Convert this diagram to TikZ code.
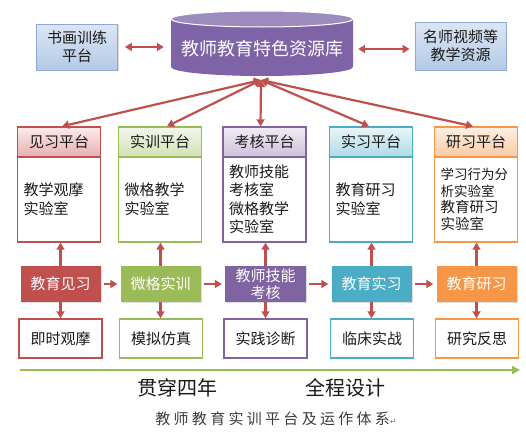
\documentclass[tikz,border=0pt]{standalone}
\usepackage{fontspec}
\setmainfont{Noto Sans CJK SC}
\newfontfamily\symfont{DejaVu Sans}
\usetikzlibrary{arrows.meta,calc,shadows}
\definecolor{cred}{HTML}{C0504D}
\definecolor{cgreen}{HTML}{9BBB59}
\definecolor{cpurple}{HTML}{8064A2}
\definecolor{cteal}{HTML}{4BACC6}
\definecolor{corange}{HTML}{F79646}
\definecolor{arr}{HTML}{C0504D}
\definecolor{txt}{HTML}{1A1A1A}
\definecolor{cylbody}{HTML}{7E64A6}
\definecolor{cyltop}{HTML}{9C8BBC}
\definecolor{bluea}{HTML}{DCE6F4}
\definecolor{blueb}{HTML}{B4C9E6}
\definecolor{blueline}{HTML}{8EA9CF}
\begin{document}
\begin{tikzpicture}[x=1pt,y=1pt,
  conn/.style={draw=arr,line width=2.2pt,-{Triangle[length=7pt,width=8pt]}},
  dconn/.style={draw=arr,line width=2.2pt,{Triangle[length=7pt,width=8pt]}-{Triangle[length=7pt,width=8pt]}},
  sidebox/.style={draw=blueline,line width=0.8pt,top color=bluea,bottom color=blueb,
    minimum width=81pt,minimum height=46pt,align=center,font=\fontsize{15}{18}\selectfont,text=txt,
    drop shadow={shadow xshift=1pt,shadow yshift=-1pt,opacity=0.3}},
  head/.style={draw=#1,line width=1.4pt,minimum width=83pt,minimum height=30pt,
    font=\fontsize{15}{18}\selectfont,text=txt},
  bodybox/.style={draw=#1,line width=1.4pt,fill=white,minimum width=83pt,minimum height=85pt,
    text width=71pt,align=left,font=\fontsize{15}{19}\selectfont,text=txt,inner xsep=6pt},
  midbox/.style={fill=#1,minimum width=80pt,minimum height=36pt,align=center,
    font=\fontsize{15}{17}\selectfont,text=white,inner sep=1pt,
    drop shadow={shadow xshift=1pt,shadow yshift=-1pt,opacity=0.25}},
  botbox/.style={draw=#1,line width=1.4pt,fill=white,minimum width=83pt,minimum height=39pt,
    font=\fontsize{15}{18}\selectfont,text=txt}
]
\useasboundingbox (0,0) rectangle (526,-439);
% cylinder
\fill[cylbody] (171,-19) -- (171,-67) arc[start angle=180,end angle=360,x radius=91,y radius=9] -- (353,-19) -- cycle;
\fill[cyltop,draw=white,line width=1pt] (262,-19) ellipse[x radius=91,y radius=8];
\node[minimum width=182pt,minimum height=60pt,text=white,font=\fontsize{18}{20}\selectfont] (cyl) at (262,-49) {教师教育特色资源库};
\coordinate (fan) at (261,-80);
% side boxes
\node[sidebox] (sL) at (77,-47) {书画训练\\平台};
\node[sidebox,minimum width=91pt,minimum height=48pt] (sR) at (460.5,-46) {名师视频等\\教学资源};
\draw[dconn,shorten <=7pt,shorten >=7pt] (sL.east) -- (cyl.west|-sL.east);
\draw[dconn,shorten <=5pt,shorten >=5pt] (cyl.east|-0,-49) -- (sR.west|-0,-49);
% headers
\node[head=cred,top color=red!8,bottom color=cred!45] (h1) at (59,-142) {见习平台};
\node[head=cgreen,top color=cgreen!12,bottom color=cgreen!45] (h2) at (160,-142) {实训平台};
\node[head=cpurple,top color=cpurple!12,bottom color=cpurple!40] (h3) at (264.5,-142) {考核平台};
\node[head=cteal,top color=cteal!12,bottom color=cteal!45] (h4) at (371,-142) {实习平台};
\node[head=corange,top color=corange!15,bottom color=corange!50] (h5) at (476,-142) {研习平台};
% bodies
\node[bodybox=cred] (b1) at (59,-199.5) {教学观摩\\实验室};
\node[bodybox=cgreen] (b2) at (160,-199.5) {微格教学\\实验室};
\node[bodybox=cpurple,font=\fontsize{15}{18.5}\selectfont] (b3) at (264.5,-199.5) {教师技能\\考核室\\微格教学\\实验室};
\node[bodybox=cteal] (b4) at (371,-199.5) {教育研习\\实验室};
\node[bodybox=corange,font=\fontsize{13.5}{16.5}\selectfont] (b5) at (476,-199.5) {学习行为分\\析实验室\\{\fontsize{14.5}{16.5}\selectfont 教育研习}\\{\fontsize{14.5}{16.5}\selectfont 实验室}};
% fan
\draw[dconn] (fan) -- ([xshift=3pt]h1.north);
\draw[dconn] (fan) -- ([xshift=7pt]h2.north);
\draw[dconn] (fan) -- ([xshift=-4pt]h3.north);
\draw[dconn] (fan) -- ([xshift=-2pt]h4.north);
\draw[dconn] (fan) -- ([xshift=-3pt]h5.north);
% middle row
\node[midbox=cred] (m1) at (60.5,-284) {教育见习};
\node[midbox=cgreen] (m2) at (160.5,-284) {微格实训};
\node[midbox=cpurple,minimum width=81pt] (m3) at (265.5,-284) {教师技能\\考核};
\node[midbox=cteal] (m4) at (371.5,-284) {教育实习};
\node[midbox=corange] (m5) at (476.5,-284) {教育研习};
% bottom row
\node[botbox=cred] (r1) at (60.5,-338.5) {即时观摩};
\node[botbox=cgreen] (r2) at (161,-338.5) {模拟仿真};
\node[botbox=cpurple] (r3) at (265.5,-338.5) {实践诊断};
\node[botbox=cteal] (r4) at (372,-338.5) {临床实战};
\node[botbox=corange] (r5) at (477,-338.5) {研究反思};
% arrows
\foreach \i in {1,...,5}{
  \draw[conn] (m\i.north) -- (m\i.north|-b\i.south);
  \draw[conn] (m\i.south) -- (m\i.south|-r\i.north);
}
\foreach \i/\j in {1/2,2/3,3/4,4/5}{
  \draw[conn,shorten <=3pt,shorten >=3pt] (m\i.east) -- (m\j.west|-m\i.east);
}
% timeline
\coordinate (t0) at (20,-370);
\coordinate (t1) at (520,-370);
\draw[draw=cgreen,line width=2.5pt,-{Triangle[length=8pt,width=8pt]}] (t0) -- (t1);
\node[font=\fontsize{20}{22}\selectfont,text=txt] (g1) at (177,-388) {贯穿四年};
\node[font=\fontsize{20}{22}\selectfont,text=txt] (g2) at (345,-388) {全程设计};
\node[font=\fontsize{15}{17}\selectfont,text=txt!85] (cap) at (276,-419) {教\hspace{3.3pt}师\hspace{3.3pt}教\hspace{3.3pt}育\hspace{3.3pt}实\hspace{3.3pt}训\hspace{3.3pt}平\hspace{3.3pt}台\hspace{3.3pt}及\hspace{3.3pt}运\hspace{3.3pt}作\hspace{3.3pt}体\hspace{3.3pt}系{\symfont\fontsize{8}{10}\selectfont\color{gray}↵}};
\end{tikzpicture}
\end{document}
